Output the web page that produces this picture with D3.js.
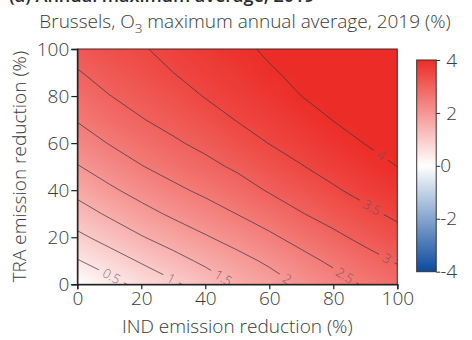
<!DOCTYPE html>
<html>
<head>
<meta charset="utf-8">
<script src="https://cdn.jsdelivr.net/npm/d3@7"></script>
<style>
  body { margin: 0; background: #fff; }
  svg text { font-family: "Open Sans", Lato, "DejaVu Sans", sans-serif; }
</style>
</head>
<body>
<svg id="chart" width="472" height="340"></svg>
<script>
// IND (x) and TRA (y) emission reductions, in %
const indReduction = [0, 10, 20, 30, 40, 50, 60, 70, 80, 90, 100];
const traReduction = [0, 10, 20, 30, 40, 50, 60, 70, 80, 90, 100];

// O3 change (%) — one row per TRA reduction, one column per IND reduction
const o3Change = [
  [0.00, 0.33, 0.64, 0.92, 1.22, 1.53, 1.79, 2.05, 2.30, 2.55, 2.78],
  [0.47, 0.76, 1.05, 1.33, 1.60, 1.85, 2.08, 2.35, 2.59, 2.83, 3.04],
  [0.89, 1.18, 1.47, 1.72, 1.96, 2.18, 2.42, 2.66, 2.90, 3.12, 3.33],
  [1.28, 1.57, 1.84, 2.08, 2.29, 2.51, 2.73, 2.98, 3.18, 3.40, 3.59],
  [1.64, 1.92, 2.17, 2.40, 2.60, 2.80, 3.04, 3.23, 3.45, 3.63, 3.80],
  [1.97, 2.23, 2.48, 2.68, 2.88, 3.07, 3.27, 3.48, 3.65, 3.83, 4.00],
  [2.26, 2.52, 2.73, 2.94, 3.11, 3.31, 3.51, 3.66, 3.84, 4.01, 4.09],
  [2.53, 2.76, 2.98, 3.14, 3.32, 3.52, 3.66, 3.83, 4.01, 4.10, 4.18],
  [2.75, 2.99, 3.15, 3.32, 3.52, 3.65, 3.81, 4.00, 4.10, 4.19, 4.27],
  [2.97, 3.16, 3.31, 3.50, 3.63, 3.78, 3.96, 4.09, 4.19, 4.28, 4.36],
  [3.17, 3.33, 3.47, 3.60, 3.75, 3.91, 4.06, 4.18, 4.28, 4.37, 4.45]
];

const contourLevels = [0.5, 1, 1.5, 2, 2.5, 3, 3.5, 4];
const xTicks = [0, 20, 40, 60, 80, 100];
const yTicks = [0, 20, 40, 60, 80, 100];
const colorTicks = [-4, -2, 0, 2, 4];
const colorDomain = [-4, 0, 4];

// where each contour label sits (screen px), snapped onto its line
const labelTargets = [
  [111, 277], [171, 279], [223, 278], [287, 279],
  [345, 275], [385, 262], [372, 207], [380, 157]
];

const svg = d3.select("#chart");
const plot = { left: 77.3, right: 397.3, top: 49, bottom: 284.3 };
const x = d3.scaleLinear().domain([0, 100]).range([plot.left, plot.right]);
const y = d3.scaleLinear().domain([0, 100]).range([plot.bottom, plot.top]);
const color = d3.scaleLinear().domain(colorDomain)
  .range(["#0b4a9c", "#ffffff", "#ec2d27"]).clamp(true);

const defs = svg.append("defs");
defs.append("clipPath").attr("id", "plotClip").append("rect")
  .attr("x", plot.left).attr("y", plot.top)
  .attr("width", plot.right - plot.left).attr("height", plot.bottom - plot.top);

// ---- filled field: one canvas pixel per grid node, smoothly scaled ----
const n = indReduction.length, m = traReduction.length;
const stepX = indReduction[1] - indReduction[0];
const stepY = traReduction[1] - traReduction[0];
const canvas = document.createElement("canvas");
canvas.width = n; canvas.height = m;
const ctx = canvas.getContext("2d");
const img = ctx.createImageData(n, m);
for (let j = 0; j < m; j++) {
  for (let i = 0; i < n; i++) {
    const c = d3.rgb(color(o3Change[j][i]));
    const k = ((m - 1 - j) * n + i) * 4;
    img.data[k] = c.r; img.data[k + 1] = c.g; img.data[k + 2] = c.b; img.data[k + 3] = 255;
  }
}
ctx.putImageData(img, 0, 0);
svg.append("image")
  .attr("href", canvas.toDataURL())
  .attr("x", x(indReduction[0] - stepX / 2))
  .attr("y", y(traReduction[m - 1] + stepY / 2))
  .attr("width", x(indReduction[n - 1] + stepX / 2) - x(indReduction[0] - stepX / 2))
  .attr("height", y(traReduction[0] - stepY / 2) - y(traReduction[m - 1] + stepY / 2))
  .attr("preserveAspectRatio", "none")
  .attr("clip-path", "url(#plotClip)");

// ---- contour lines ----
const flat = [];
for (let j = 0; j < m; j++) for (let i = 0; i < n; i++) flat.push(o3Change[j][i]);
const contours = d3.contours().size([n, m]).thresholds(contourLevels)(flat);
const gx = g => x(indReduction[0] + (g - 0.5) * stepX);
const gy = g => y(traReduction[0] + (g - 0.5) * stepY);
const line = d3.line();

const mask = defs.append("mask").attr("id", "labelGaps")
  .attr("maskUnits", "userSpaceOnUse")
  .attr("x", 0).attr("y", 0).attr("width", 472).attr("height", 340);
mask.append("rect").attr("width", 472).attr("height", 340).attr("fill", "#fff");

const lineLayer = svg.append("g").attr("clip-path", "url(#plotClip)")
  .append("g").attr("mask", "url(#labelGaps)");
const labelLayer = svg.append("g").attr("clip-path", "url(#plotClip)");

contours.forEach((c, li) => {
  const rings = [];
  c.coordinates.forEach(poly => poly.forEach(ring => {
    rings.push(ring.map(p => [gx(p[0]), gy(p[1])]));
  }));
  lineLayer.selectAll(null).data(rings).enter().append("path")
    .attr("d", line)
    .attr("fill", "none")
    .attr("stroke", "#3e3440")
    .attr("stroke-opacity", 0.8)
    .attr("stroke-width", 0.9);

  // snap label onto nearest visible segment
  const [tx, ty] = labelTargets[li];
  let best = null;
  rings.forEach(r => {
    for (let k = 0; k < r.length - 1; k++) {
      const [x1, y1] = r[k], [x2, y2] = r[k + 1];
      const inside = p => p[0] >= plot.left - 1 && p[0] <= plot.right + 1 && p[1] >= plot.top - 1 && p[1] <= plot.bottom + 1;
      if (!inside(r[k]) && !inside(r[k + 1])) continue;
      const dx = x2 - x1, dy = y2 - y1, L2 = dx * dx + dy * dy;
      if (L2 === 0) continue;
      let t = ((tx - x1) * dx + (ty - y1) * dy) / L2;
      t = Math.max(0, Math.min(1, t));
      const px = x1 + t * dx, py = y1 + t * dy;
      const d = Math.hypot(px - tx, py - ty);
      if (!best || d < best.d) best = { d, px, py, ang: Math.atan2(dy, dx) * 180 / Math.PI };
    }
  });
  if (!best) return;
  let ang = best.ang;
  if (ang > 90) ang -= 180;
  if (ang < -90) ang += 180;
  const label = labelLayer.append("text")
    .attr("transform", `translate(${best.px},${best.py}) rotate(${ang})`)
    .attr("text-anchor", "middle")
    .attr("dy", "0.35em")
    .attr("font-size", 13)
    .attr("font-weight", 300)
    .attr("fill", "#6a5060")
    .attr("fill-opacity", 0.85)
    .text(String(contourLevels[li]));
  const w = label.node().getComputedTextLength() + 10;
  mask.append("rect")
    .attr("x", -w / 2).attr("y", -6).attr("width", w).attr("height", 12)
    .attr("fill", "#000")
    .attr("transform", `translate(${best.px},${best.py}) rotate(${ang})`);
});

// ---- frame and axes ----
svg.append("rect")
  .attr("x", plot.left).attr("y", plot.top)
  .attr("width", plot.right - plot.left).attr("height", plot.bottom - plot.top)
  .attr("fill", "none").attr("stroke", "#4a2424").attr("stroke-width", 1);

const tickFont = "'Open Sans', Lato, sans-serif";
const tickSize = 19;
const xAxis = svg.append("g").attr("transform", `translate(0,${plot.bottom})`)
  .call(d3.axisBottom(x).tickValues(xTicks).tickSize(5).tickPadding(2));
const yAxis = svg.append("g").attr("transform", `translate(${plot.left},0)`)
  .call(d3.axisLeft(y).tickValues(yTicks).tickSize(6).tickPadding(2));
[xAxis, yAxis].forEach(a => {
  a.select(".domain").attr("stroke", "#222").attr("stroke-width", 1.4);
  a.selectAll(".tick line").attr("stroke", "#222").attr("stroke-width", 1.2);
  a.selectAll(".tick text").attr("fill", "#3a3a3a")
    .attr("font-size", tickSize).attr("font-weight", 300)
    .attr("font-family", tickFont);
});

svg.append("text")
  .attr("x", x(50)).attr("y", 333)
  .attr("text-anchor", "middle").attr("font-size", 19).attr("font-weight", 300)
  .attr("fill", "#3a3a3a")
  .text("IND emission reduction (%)");
svg.append("text")
  .attr("transform", `translate(25.5,${(plot.top + plot.bottom) / 2}) rotate(-90)`)
  .attr("text-anchor", "middle").attr("font-size", 19).attr("font-weight", 300)
  .attr("fill", "#3a3a3a")
  .text("TRA emission reduction (%)");

// ---- titles ----
svg.append("text")
  .attr("x", 9).attr("y", 2)
  .attr("font-size", 18).attr("font-weight", 600).attr("fill", "#2a2a2a")
  .text("(a)  Annual maximum average, 2019");
const sub = svg.append("text")
  .attr("x", 245).attr("y", 28)
  .attr("text-anchor", "middle").attr("font-size", 19).attr("font-weight", 300)
  .attr("fill", "#3a3a3a");
sub.append("tspan").text("Brussels, O");
sub.append("tspan").attr("font-size", 13.5).attr("dy", 4.5).text("3");
sub.append("tspan").attr("dy", -4.5).text(" maximum annual average, 2019 (%)");

// ---- colour bar ----
const cb = { x: 416.7, w: 19.5, top: 60, bottom: 271.7 };
const cy = d3.scaleLinear().domain([colorDomain[0], colorDomain[2]]).range([cb.bottom, cb.top]);
const grad = defs.append("linearGradient").attr("id", "cbGrad")
  .attr("x1", 0).attr("y1", 1).attr("x2", 0).attr("y2", 0);
d3.range(0, 1.0001, 0.125).forEach(t => {
  const v = colorDomain[0] + t * (colorDomain[2] - colorDomain[0]);
  grad.append("stop").attr("offset", t).attr("stop-color", color(v));
});
svg.append("rect")
  .attr("x", cb.x).attr("y", cb.top).attr("width", cb.w).attr("height", cb.bottom - cb.top)
  .attr("fill", "url(#cbGrad)").attr("stroke", "#333").attr("stroke-width", 1);
const cAxis = svg.append("g").attr("transform", `translate(${cb.x + cb.w},0)`)
  .call(d3.axisRight(cy).tickValues(colorTicks).tickSize(4).tickPadding(3)
    .tickFormat(d => d < 0 ? "-" + Math.abs(d) : String(d)));
cAxis.select(".domain").remove();
cAxis.selectAll(".tick line").attr("stroke", "#333");
cAxis.selectAll(".tick text").attr("fill", "#3a3a3a")
  .attr("font-size", tickSize).attr("font-weight", 300)
  .attr("font-family", tickFont)
  .attr("x", d => d > 0 ? 10 : 4);
</script>
</body>
</html>
